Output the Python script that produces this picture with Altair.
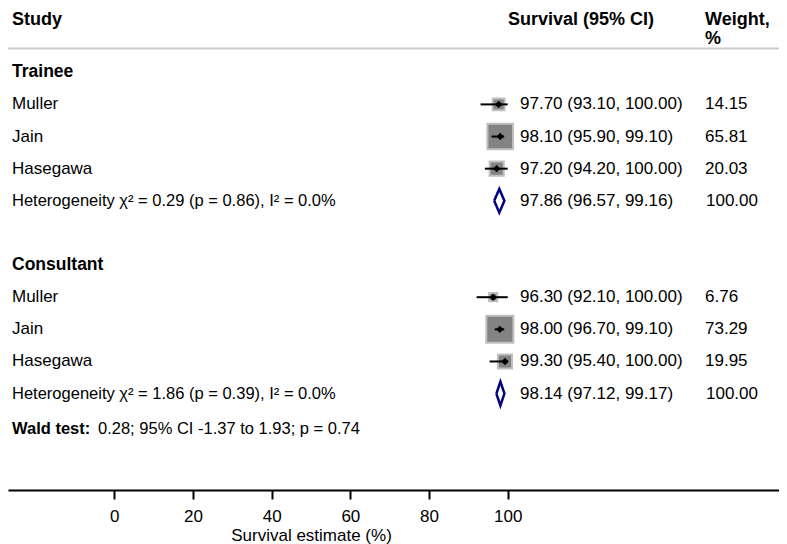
import altair as alt
import pandas as pd

FONT = "Liberation Sans, Arial, Helvetica, sans-serif"

# ---- data ----
groups = ["Trainee", "Consultant"]
studies = ["Muller", "Jain", "Hasegawa"]

trainee_est = [97.70, 98.10, 97.20]
trainee_lo = [93.10, 95.90, 94.20]
trainee_hi = [100.00, 99.10, 100.00]
trainee_w = [14.15, 65.81, 20.03]

consultant_est = [96.30, 98.00, 99.30]
consultant_lo = [92.10, 96.70, 95.40]
consultant_hi = [100.00, 99.10, 100.00]
consultant_w = [6.76, 73.29, 19.95]

pooled_est = [97.86, 98.14]
pooled_lo = [96.57, 97.12]
pooled_hi = [99.16, 99.17]
pooled_w = [100.00, 100.00]

het_chi2 = [0.29, 1.86]
het_p = [0.86, 0.39]
het_i2 = [0.0, 0.0]

wald_diff = 0.28
wald_lo = -1.37
wald_hi = 1.93
wald_p = 0.74

x_ticks = [0, 20, 40, 60, 80, 100]

# ---- tables ----
est_by_group = [trainee_est, consultant_est]
lo_by_group = [trainee_lo, consultant_lo]
hi_by_group = [trainee_hi, consultant_hi]
w_by_group = [trainee_w, consultant_w]

study_rows = []
for gi, g in enumerate(groups):
    base = 1 + 6 * gi
    for si, s in enumerate(studies):
        e, l, h, w = est_by_group[gi][si], lo_by_group[gi][si], hi_by_group[gi][si], w_by_group[gi][si]
        study_rows.append(dict(group=g, study=s, row=base + 1 + si, est=e, lo=l, hi=h, w=w,
                               ci=f"{e:.2f} ({l:.2f}, {h:.2f})", wt=f"{w:.2f}"))
studies_df = pd.DataFrame(study_rows)

pooled_rows = []
diamond_pts = []
for gi, g in enumerate(groups):
    r = 1 + 6 * gi + 4
    e, l, h = pooled_est[gi], pooled_lo[gi], pooled_hi[gi]
    pooled_rows.append(dict(group=g, row=r, ci=f"{e:.2f} ({l:.2f}, {h:.2f})", wt=f"{pooled_w[gi]:.2f}",
                            het=f"Heterogeneity χ² = {het_chi2[gi]:.2f} (p = {het_p[gi]:.2f}), I² = {het_i2[gi]:.1f}%"))
    half = 0.37
    for k, (xx, yy) in enumerate([(l, r), (e, r - half), (h, r), (e, r + half), (l, r)]):
        diamond_pts.append(dict(group=g, k=k, x=xx, row=yy))
pooled_df = pd.DataFrame(pooled_rows)
diamond_df = pd.DataFrame(diamond_pts)

group_df = pd.DataFrame({"label": groups, "row": [1 + 6 * gi for gi in range(len(groups))]})

W, H = 771, 482
xs = alt.Scale(domain=[-27.02, 168.96], nice=False, zero=False)
ys = alt.Scale(domain=[-1, 14], reverse=True, nice=False, zero=False)
Y = alt.Y("row:Q", scale=ys, axis=None)

xaxis = alt.Axis(values=x_ticks, title="Survival estimate (%)", grid=False,
                 domainColor="black", domainWidth=2, tickColor="black", tickWidth=2,
                 tickSize=9, labelFontSize=17, labelColor="black", labelPadding=9,
                 labelFont=FONT, titleFont=FONT, titleFontSize=17, titleFontWeight="normal",
                 titleColor="black", titleX=303, titleY=37, titleBaseline="top",
                 titleAlign="center")

squares = alt.Chart(studies_df).mark_square(
    filled=True, fill="#838383", stroke="#c0c0c0", strokeWidth=2, opacity=1
).encode(
    x=alt.X("est:Q", scale=xs, axis=xaxis, title="Survival estimate (%)"),
    y=Y,
    size=alt.Size("w:Q", scale=alt.Scale(domain=[0, 100], range=[0, 1000]), legend=None),
)

ci = alt.Chart(studies_df).mark_rule(color="black", strokeWidth=2).encode(
    x=alt.X("lo:Q", scale=xs, axis=xaxis, title="Survival estimate (%)"),
    x2="hi:Q",
    y=Y,
)

pts = alt.Chart(studies_df).mark_point(shape="diamond", filled=True, color="black", size=55, opacity=1).encode(
    x=alt.X("est:Q", scale=xs, axis=xaxis, title="Survival estimate (%)"),
    y=Y,
)

diamond = alt.Chart(diamond_df).mark_line(color="#000080", strokeWidth=2.5, strokeJoin="miter").encode(
    x=alt.X("x:Q", scale=xs, axis=xaxis, title="Survival estimate (%)"),
    y=Y,
    order="k:Q",
    detail="group:N",
)

header_line = alt.Chart(pd.DataFrame({"row": [0.26]})).mark_rule(color="#cccccc", strokeWidth=2).encode(
    x=alt.value(0), x2=alt.value(W), y=Y
)

def txt(df, field, xpx, size=17, weight="normal", align="left"):
    return alt.Chart(df).mark_text(align=align, baseline="middle", font=FONT, fontSize=size,
                                   fontWeight=weight, color="black").encode(
        x=alt.value(xpx), y=Y, text=f"{field}:N")

hdr_row = -0.63
hdr_study = txt(pd.DataFrame({"label": ["Study"], "row": [hdr_row]}), "label", 4, 18, "bold")
hdr_surv = txt(pd.DataFrame({"label": ["Survival (95% CI)"], "row": [hdr_row]}), "label", 500, 18, "bold")
hdr_w1 = txt(pd.DataFrame({"label": ["Weight,"], "row": [hdr_row]}), "label", 697, 18, "bold")
hdr_w2 = txt(pd.DataFrame({"label": ["%"], "row": [-0.03]}), "label", 697, 18, "bold")

grp_txt = txt(group_df, "label", 4, 17.5, "bold")
study_txt = txt(studies_df, "study", 4, 17)
het_txt = txt(pooled_df, "het", 4, 16.5)
ci_txt = txt(studies_df, "ci", 512, 17)
wt_txt = txt(studies_df, "wt", 697, 17)
pci_txt = txt(pooled_df, "ci", 512, 17)
pwt_txt = txt(pooled_df, "wt", 698, 17)

wald_df = pd.DataFrame({"b": ["Wald test:"],
                        "t": [f"{wald_diff:.2f}; 95% CI {wald_lo:.2f} to {wald_hi:.2f}; p = {wald_p:.2f}"],
                        "row": [12.1]})
wald_b = txt(wald_df, "b", 4, 16.5, "bold")
wald_t = txt(wald_df, "t", 90, 16.5)

chart = alt.layer(
    header_line, squares, ci, pts, diamond,
    hdr_study, hdr_surv, hdr_w1, hdr_w2,
    grp_txt, study_txt, het_txt, ci_txt, wt_txt, pci_txt, pwt_txt, wald_b, wald_t,
).properties(
    width=W, height=H,
    autosize=alt.AutoSizeParams(type="none"),
    padding={"left": 0, "top": 0, "right": 0, "bottom": 54},
    background="white",
).configure_view(stroke=None)

chart.save("out.html", embed_options={"renderer": "svg", "actions": False})
